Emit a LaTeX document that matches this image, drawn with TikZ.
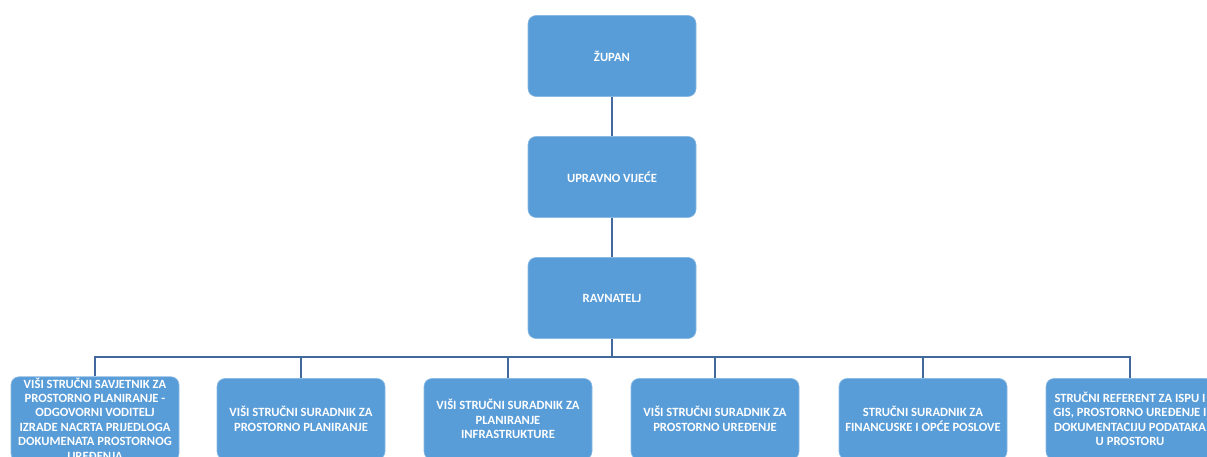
\documentclass[tikz,border=0pt]{standalone}
\usepackage{fontspec}
\setmainfont{Carlito}
\definecolor{boxblue}{RGB}{88,156,216}
\definecolor{linecol}{RGB}{66,104,156}
\tikzset{
  orgbox/.style={rectangle, rounded corners=8pt, fill=boxblue, draw=boxblue!70!white, line width=0.6pt,
    minimum width=168pt, minimum height=81pt, text=white, align=center, inner sep=1pt,
    font=\fontsize{12.6}{14.4}\selectfont\bfseries},
  conn/.style={draw=linecol, line width=1.8pt}
}
\begin{document}
\begin{tikzpicture}[x=1pt,y=-1pt]
\path[use as bounding box] (0,0) rectangle (1207,457);
\fill[white] (0,0) rectangle (1207,457);
\clip (0,0) rectangle (1207,457);
\node[orgbox] (zupan) at (612,56) {ŽUPAN};
\node[orgbox] (uv) at (612,177) {UPRAVNO VIJEĆE};
\node[orgbox] (rav) at (612,298) {RAVNATELJ};
\coordinate (bus) at (612,357);
\node[orgbox] (b1) at (95,419) {VIŠI STRUČNI SAVJETNIK ZA\\PROSTORNO PLANIRANJE -\\ODGOVORNI VODITELJ\\IZRADE NACRTA PRIJEDLOGA\\DOKUMENATA PROSTORNOG\\UREĐENJA};
\node[orgbox] (b2) at (301,419) {VIŠI STRUČNI SURADNIK ZA\\PROSTORNO PLANIRANJE};
\node[orgbox] (b3) at (508,419) {VIŠI STRUČNI SURADNIK ZA\\PLANIRANJE\\INFRASTRUKTURE};
\node[orgbox] (b4) at (715,419) {VIŠI STRUČNI SURADNIK ZA\\PROSTORNO UREĐENJE};
\node[orgbox] (b5) at (923,419) {STRUČNI SURADNIK ZA\\FINANCUSKE I OPĆE POSLOVE};
\node[orgbox] (b6) at (1130,419) {STRUČNI REFERENT ZA ISPU I\\GIS, PROSTORNO UREĐENJE I\\DOKUMENTACIJU PODATAKA\\U PROSTORU};
\draw[conn] (zupan) -- (uv);
\draw[conn] (uv) -- (rav);
\draw[conn] (rav) -- (bus);
\foreach \b in {b1,b2,b3,b4,b5,b6} {\draw[conn] (\b.north) |- (bus);}
\end{tikzpicture}
\end{document}
